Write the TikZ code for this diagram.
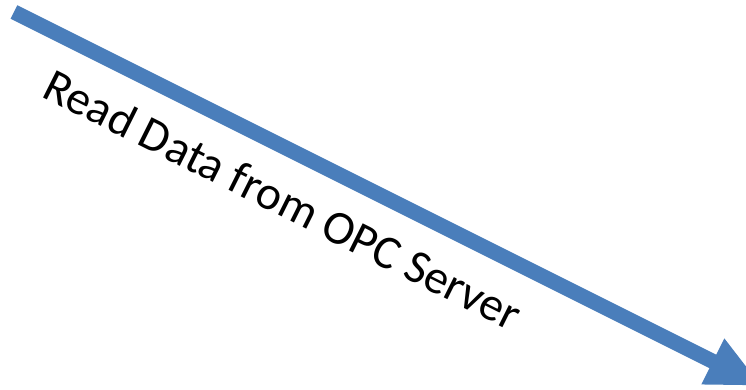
\documentclass[tikz,border=0pt]{standalone}
\usepackage{fontspec}
\setmainfont{Carlito}
\usetikzlibrary{arrows.meta}
\definecolor{arrowblue}{HTML}{4A7EBB}
\tikzset{
  bigarrow/.style={draw=arrowblue, line width=15pt, -{Triangle[width=47pt,length=55pt]}},
  labeltext/.style={font=\fontsize{47.5pt}{56pt}\selectfont, inner sep=0pt, anchor=base west, rotate=-26.57}
}
\begin{document}
\begin{tikzpicture}[x=1pt,y=-1pt]
\useasboundingbox (0,0) rectangle (746,390);
\clip (0,0) rectangle (746,390);
\coordinate (s) at (14,12);
\coordinate (e) at (762,386);
\draw[bigarrow] (s) -- (e);
\node[labeltext] (lbl) at (40,96) {Read Data from OPC Server};
\end{tikzpicture}
\end{document}
